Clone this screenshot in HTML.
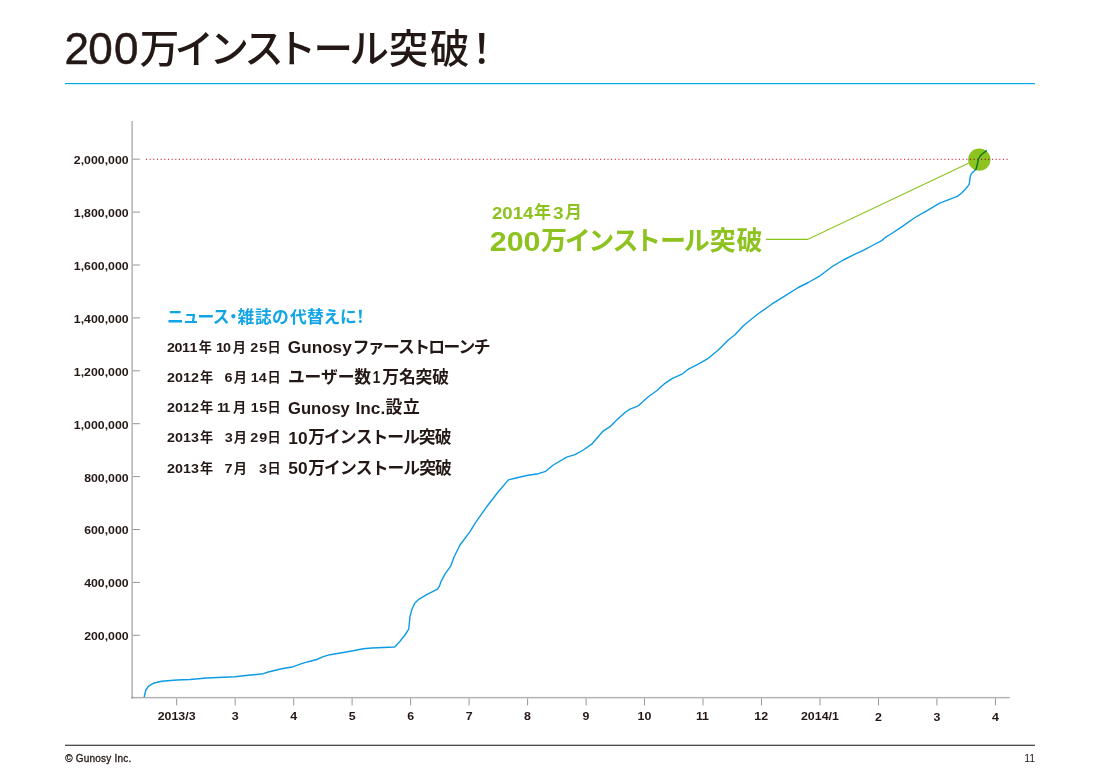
<!DOCTYPE html>
<html lang="ja">
<head>
<meta charset="utf-8">
<title>200万インストール突破！</title>
<style>
html,body{margin:0;padding:0;background:#fff;}
body{width:1098px;height:780px;overflow:hidden;position:relative;}
svg{position:absolute;left:0;top:0;display:block;}
text{fill:#231815;white-space:pre;}
.lt{font-family:"Liberation Sans","Noto Sans CJK JP",sans-serif;}
.jp{font-family:"Noto Sans CJK JP","Liberation Sans",sans-serif;}
</style>
</head>
<body>
<svg width="1098" height="780" viewBox="0 0 1098 780">
<g id="title">
<text stroke="#231815" stroke-width="0.5" class="lt" x="64.62 88.18 113.97" y="64.10" font-size="44" font-weight="400">200</text>
<text class="jp" x="139.67 174.58 209.57 244.25 276.66 313.60 349.49 388.80 430.06 462.05" y="62.80" font-size="39.5" font-weight="500">万インストール突破！</text>
<rect x="65" y="83" width="970" height="1.2" fill="#00a9e8"/>
</g>
<g id="axes" fill="#000" fill-opacity="0.3"><rect x="131.4" y="121" width="1.5" height="577.4"/><rect x="131.4" y="696.9" width="878.3" height="1.5"/></g>
<path id="ticks" d="M132.9,635.3h7M132.9,582.4h7M132.9,529.5h7M132.9,476.6h7M132.9,423.7h7M132.9,370.8h7M132.9,317.9h7M132.9,265.0h7M132.9,212.1h7M132.9,159.2h7M176.7,698.4v7M235.2,698.4v7M293.7,698.4v7M352.1,698.4v7M410.6,698.4v7M469.1,698.4v7M527.6,698.4v7M586.1,698.4v7M644.5,698.4v7M703.0,698.4v7M761.5,698.4v7M820.0,698.4v7M878.5,698.4v7M936.9,698.4v7M995.4,698.4v7" fill="none" stroke="#8a8a8a" stroke-width="0.9"/>
<g id="ylabels">
<text class="lt" transform="translate(84.13,640.20) scale(1.0450,1)" font-size="11.8" font-weight="700">200,000</text>
<text class="lt" transform="translate(84.13,587.30) scale(1.0450,1)" font-size="11.8" font-weight="700">400,000</text>
<text class="lt" transform="translate(84.13,534.40) scale(1.0450,1)" font-size="11.8" font-weight="700">600,000</text>
<text class="lt" transform="translate(84.13,481.50) scale(1.0450,1)" font-size="11.8" font-weight="700">800,000</text>
<text class="lt" transform="translate(73.84,428.60) scale(1.0450,1)" font-size="11.8" font-weight="700">1,000,000</text>
<text class="lt" transform="translate(73.84,375.70) scale(1.0450,1)" font-size="11.8" font-weight="700">1,200,000</text>
<text class="lt" transform="translate(73.84,322.80) scale(1.0450,1)" font-size="11.8" font-weight="700">1,400,000</text>
<text class="lt" transform="translate(73.84,269.90) scale(1.0450,1)" font-size="11.8" font-weight="700">1,600,000</text>
<text class="lt" transform="translate(73.84,217.00) scale(1.0450,1)" font-size="11.8" font-weight="700">1,800,000</text>
<text class="lt" transform="translate(73.84,164.10) scale(1.0450,1)" font-size="11.8" font-weight="700">2,000,000</text>
</g>
<g id="xlabels">
<text class="lt" transform="translate(157.67,720.00) scale(1.0800,1)" font-size="11.5" font-weight="700">2013/3</text>
<text class="lt" transform="translate(231.78,720.00) scale(1.0800,1)" font-size="11.5" font-weight="700">3</text>
<text class="lt" transform="translate(290.17,720.00) scale(1.0800,1)" font-size="11.5" font-weight="700">4</text>
<text class="lt" transform="translate(348.74,720.00) scale(1.0800,1)" font-size="11.5" font-weight="700">5</text>
<text class="lt" transform="translate(407.13,720.00) scale(1.0800,1)" font-size="11.5" font-weight="700">6</text>
<text class="lt" transform="translate(465.70,720.00) scale(1.0800,1)" font-size="11.5" font-weight="700">7</text>
<text class="lt" transform="translate(524.09,720.00) scale(1.0800,1)" font-size="11.5" font-weight="700">8</text>
<text class="lt" transform="translate(582.57,720.00) scale(1.0800,1)" font-size="11.5" font-weight="700">9</text>
<text class="lt" transform="translate(637.50,720.00) scale(1.0800,1)" font-size="11.5" font-weight="700">10</text>
<text class="lt" transform="translate(695.88,720.00) scale(1.0800,1)" font-size="11.5" font-weight="700">11</text>
<text class="lt" transform="translate(754.36,720.00) scale(1.0800,1)" font-size="11.5" font-weight="700">12</text>
<text class="lt" transform="translate(800.95,720.00) scale(1.0800,1)" font-size="11.5" font-weight="700">2014/1</text>
<text class="lt" transform="translate(874.97,721.20) scale(1.0800,1)" font-size="11.5" font-weight="700">2</text>
<text class="lt" transform="translate(933.54,721.20) scale(1.0800,1)" font-size="11.5" font-weight="700">3</text>
<text class="lt" transform="translate(991.93,721.20) scale(1.0800,1)" font-size="11.5" font-weight="700">4</text>
</g>
<path id="goal" d="M145.97,159.3H1007.7" fill="none" stroke="#e72a47" stroke-width="1.15" stroke-dasharray="1.05 2.6123"/>
<path id="curve" d="M144.2,697.2 L145.8,690.0 L148.3,686.3 L153.3,683.3 L161.7,681.3 L176.7,680.0 L190.0,679.5 L206.7,678.0 L223.3,677.3 L235.0,676.7 L248.3,675.3 L263.3,673.7 L268.3,672.0 L281.7,668.7 L293.3,666.7 L301.7,663.6 L308.3,661.7 L316.7,659.5 L323.3,656.7 L330.0,654.7 L341.7,652.8 L353.3,650.8 L363.3,648.7 L371.7,648.0 L383.3,647.5 L394.7,647.0 L400.0,641.3 L405.0,635.0 L408.7,629.2 L410.0,616.7 L411.7,610.0 L414.7,603.3 L418.3,599.7 L426.7,594.7 L437.5,589.2 L439.2,586.7 L441.3,580.8 L445.0,574.2 L450.8,565.8 L454.2,556.7 L457.5,550.0 L460.0,545.0 L470.0,531.7 L475.0,523.3 L486.7,506.7 L498.3,491.7 L508.4,479.9 L515.0,478.3 L526.7,475.5 L538.3,473.7 L545.0,471.7 L553.3,465.0 L566.7,457.2 L575.0,454.7 L583.3,450.0 L591.7,444.2 L602.5,431.7 L610.0,426.7 L617.5,419.2 L625.0,412.5 L630.0,409.2 L638.3,405.8 L648.3,396.7 L656.7,390.8 L665.0,383.3 L672.5,378.3 L682.5,373.8 L688.3,369.2 L698.3,364.2 L708.3,358.3 L718.3,350.0 L728.3,340.0 L735.0,334.7 L743.3,325.8 L757.5,314.2 L771.7,304.2 L785.0,295.8 L798.3,287.5 L808.3,282.5 L820.0,275.8 L833.3,265.8 L843.3,260.0 L855.0,254.2 L863.3,250.3 L873.3,245.0 L881.7,240.6 L885.0,237.7 L891.7,233.5 L901.7,226.8 L915.0,217.5 L926.7,210.8 L939.2,203.3 L948.7,199.6 L957.3,196.4 L962.0,192.8 L966.0,188.5 L969.2,184.4 L970.2,176.5 L971.5,173.5 L976.2,169.0 L977.6,163.0 L978.4,159.0 L980.2,156.0 L982.5,153.8 L986.9,150.4" fill="none" stroke="#0d9be3" stroke-width="1.4" stroke-linejoin="round"/>
<path id="leader" d="M766,239.4H807.5L968.5,163.2" fill="none" stroke="#8dc21f" stroke-width="1.15"/>
<circle id="marker" cx="979.3" cy="159.6" r="11.2" fill="#8dc21f" style="mix-blend-mode:multiply"/>
<g id="annotation">
<text class="lt" transform="translate(491.92,218.80) scale(1.0964,1)" font-size="17" font-weight="700" style="fill:#8dc21f">2014</text>
<text class="jp" x="534.05" y="218.20" font-size="17" font-weight="700" style="fill:#8dc21f">年</text>
<text class="lt" transform="translate(553.00,218.80) scale(1.1180,1)" font-size="17" font-weight="700" style="fill:#8dc21f">3</text>
<text class="jp" x="565.00" y="218.20" font-size="17" font-weight="700" style="fill:#8dc21f">月</text>
<text class="lt" transform="translate(489.75,250.50) scale(1.0680,1)" font-size="28.5" font-weight="700" style="fill:#8dc21f">200</text>
<text class="jp" x="541.01 564.86 588.34 612.60 635.12 660.00 683.85 709.75 736.60" y="249.80" font-size="26" font-weight="700" style="fill:#8dc21f">万インストール突破</text>
</g>
<g id="history">
<text class="jp" x="167.03 182.57 197.50 212.63 224.95 237.53 254.95 271.90 289.88 307.00 323.57 340.02 351.95" y="323.40" font-size="16.8" font-weight="700" style="fill:#12a5e6">ニュース・雑誌の代替えに！</text>
<text class="lt" transform="scale(1.07,1)" x="156.03 163.08 170.13 177.18" y="351.60" font-size="13.4" font-weight="700">2011</text>
<text class="jp" x="198.85" y="351.60" font-size="13.2" font-weight="700">年</text>
<text class="lt" transform="scale(1.07,1)" x="201.97 208.42" y="351.60" font-size="13.4" font-weight="700">10</text>
<text class="jp" x="232.73" y="351.60" font-size="13.2" font-weight="700">月</text>
<text class="lt" transform="scale(1.07,1)" x="233.79 242.23" y="351.60" font-size="13.4" font-weight="700">25</text>
<text class="jp" x="267.60" y="351.60" font-size="13.2" font-weight="700">日</text>
<text class="lt" transform="translate(287.86,353.10) scale(1.0206,1)" font-size="16.8" font-weight="700">Gunosy</text>
<text class="jp" x="352.70 367.83 382.96 398.09 413.23 428.36 443.49 458.62 473.75" y="352.70" font-size="16.8" font-weight="700">ファーストローンチ</text>
<text class="lt" transform="scale(1.07,1)" x="156.03 163.55 171.06 178.58" y="381.85" font-size="13.4" font-weight="700">2012</text>
<text class="jp" x="199.90" y="381.85" font-size="13.2" font-weight="700">年</text>
<text class="lt" transform="scale(1.07,1)" x="209.88" y="381.85" font-size="13.4" font-weight="700">6</text>
<text class="jp" x="233.63" y="381.85" font-size="13.2" font-weight="700">月</text>
<text class="lt" transform="scale(1.07,1)" x="234.40 241.81" y="381.85" font-size="13.4" font-weight="700">14</text>
<text class="jp" x="267.60" y="381.85" font-size="13.2" font-weight="700">日</text>
<text class="jp" x="288.05 304.58 321.11 337.63 354.16" y="382.95" font-size="16.8" font-weight="700">ユーザー数</text>
<text class="lt" transform="translate(372.66,383.35) scale(0.8000,1)" font-size="16.8" font-weight="700">1</text>
<text class="jp" x="382.34 398.98 415.62 432.26" y="382.95" font-size="16.8" font-weight="700">万名突破</text>
<text class="lt" transform="scale(1.07,1)" x="156.03 163.55 171.06 178.58" y="412.10" font-size="13.4" font-weight="700">2012</text>
<text class="jp" x="199.90" y="412.10" font-size="13.2" font-weight="700">年</text>
<text class="lt" transform="scale(1.07,1)" x="202.90 207.83" y="412.10" font-size="13.4" font-weight="700">11</text>
<text class="jp" x="232.93" y="412.10" font-size="13.2" font-weight="700">月</text>
<text class="lt" transform="scale(1.07,1)" x="234.40 242.23" y="412.10" font-size="13.4" font-weight="700">15</text>
<text class="jp" x="267.60" y="412.10" font-size="13.2" font-weight="700">日</text>
<text class="lt" transform="translate(288.08,413.60) scale(0.9884,1)" font-size="16.8" font-weight="700">Gunosy</text>
<text class="lt" transform="translate(355.52,413.60) scale(1.0261,1)" font-size="16.8" font-weight="700">Inc.</text>
<text class="jp" x="385.54 403.03" y="413.20" font-size="16.8" font-weight="700">設立</text>
<text class="lt" transform="scale(1.07,1)" x="156.03 163.55 171.06 178.58" y="442.35" font-size="13.4" font-weight="700">2013</text>
<text class="jp" x="199.90" y="442.35" font-size="13.2" font-weight="700">年</text>
<text class="lt" transform="scale(1.07,1)" x="209.98" y="442.35" font-size="13.4" font-weight="700">3</text>
<text class="jp" x="233.63" y="442.35" font-size="13.2" font-weight="700">月</text>
<text class="lt" transform="scale(1.07,1)" x="233.79 242.23" y="442.35" font-size="13.4" font-weight="700">29</text>
<text class="jp" x="267.60" y="442.35" font-size="13.2" font-weight="700">日</text>
<text class="lt" transform="translate(288.32,443.85) scale(1.0321,1)" font-size="16.8" font-weight="700">10</text>
<text class="jp" x="308.24 324.04 339.84 355.65 371.45 387.25 403.06 418.86 434.66" y="443.45" font-size="16.8" font-weight="700">万インストール突破</text>
<text class="lt" transform="scale(1.07,1)" x="156.03 163.55 171.06 178.58" y="472.60" font-size="13.4" font-weight="700">2013</text>
<text class="jp" x="199.90" y="472.60" font-size="13.2" font-weight="700">年</text>
<text class="lt" transform="scale(1.07,1)" x="209.75" y="472.60" font-size="13.4" font-weight="700">7</text>
<text class="jp" x="233.63" y="472.60" font-size="13.2" font-weight="700">月</text>
<text class="lt" transform="scale(1.07,1)" x="242.08" y="472.60" font-size="13.4" font-weight="700">3</text>
<text class="jp" x="267.60" y="472.60" font-size="13.2" font-weight="700">日</text>
<text class="lt" transform="translate(288.33,474.10) scale(1.0314,1)" font-size="16.8" font-weight="700">50</text>
<text class="jp" x="308.24 324.09 339.94 355.80 371.65 387.50 403.36 419.21 435.06" y="473.70" font-size="16.8" font-weight="700">万インストール突破</text>
</g>
<rect x="65" y="744.7" width="970" height="1.2" fill="#3e3a39"/>
<text stroke="#231815" stroke-width="0.3" class="lt" x="65.30 72.87 75.85 83.82 89.59 95.35 101.11 106.31 111.51 114.49 117.46 123.23 128.42" y="761.80" font-size="10" font-weight="400">© Gunosy Inc.</text>
<text class="lt" x="1024.20 1029.20" y="761.90" font-size="10.5" font-weight="400">11</text>
</svg>
</body>
</html>
